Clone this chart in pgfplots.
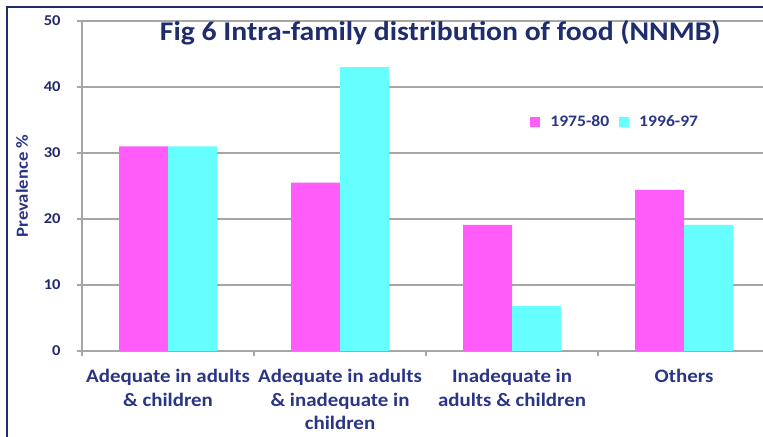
\documentclass[border=0pt]{standalone}
\usepackage{pgfplots}
\pgfplotsset{compat=1.18}
\usepackage{fontspec}
\setmainfont[FakeStretch=1.1]{Carlito}
\definecolor{pinkbar}{HTML}{FF5CFA}
\definecolor{cyanbar}{HTML}{66FFFF}
\definecolor{navy}{HTML}{1F2D6E}
\definecolor{lbl}{HTML}{2B3585}
\definecolor{gridc}{HTML}{A6A6A6}
\begin{document}
\begin{tikzpicture}[x=1bp,y=1bp]
\useasboundingbox (0,0) rectangle (763,437);
\fill[white] (0,0) rectangle (763,437);
\draw[navy, line width=1.8bp] (7,0) -- (7,430) -- (763,430);
\begin{axis}[
  at={(82bp,86bp)}, anchor=south west,
  scale only axis, width=681bp, height=330bp,
  ybar=0pt, bar width=49bp,
  xmin=-0.5, xmax=3.459, ymin=0, ymax=50,
  ytick={0,10,...,50},
  xtick={0,1,2,3},
  xticklabels={{Adequate in adults\\\& children},{Adequate in adults\\\& inadequate in\\children},{Inadequate in\\adults \& children},{Others}},
  minor xtick={-0.5,0.5,1.5,2.5},
  major x tick style={draw=none},
  minor x tick style={draw=gridc, line width=1.2bp},
  minor tick length=5bp,
  tick align=outside,
  major tick length=5bp,
  y tick style={draw=gridc, line width=1.2bp},
  axis x line*=bottom, axis y line*=left,
  axis line style={draw=gridc, line width=1.4bp, -},
  ymajorgrids, grid style={draw=gridc, line width=1.4bp},
  /pgf/number format/assume math mode=true,
  yticklabel style={font=\fontsize{15bp}{17bp}\selectfont\bfseries, text=lbl!80!black, xshift=-13bp},
  xticklabel style={font=\fontsize{19bp}{23.5bp}\selectfont\bfseries, text=lbl, align=center, yshift=-10bp},
  ylabel={Prevalence \%},
  ylabel style={at={(axis description cs:-0.088,0.5)}, anchor=center, font=\fontsize{17bp}{19bp}\selectfont\bfseries, text=lbl},
  title={Fig 6 Intra-family distribution of food (NNMB)},
  title style={at={(axis description cs:0.526,0.945)}, anchor=center, font=\fontsize{27bp}{30bp}\selectfont\bfseries, text=navy},
  legend style={at={(axis description cs:0.783,0.695)}, anchor=center, draw=none, fill=none, font=\fontsize{16bp}{18bp}\selectfont\bfseries, text=lbl, column sep=8bp},
  legend columns=2,
  legend image code/.code={\fill[#1] (0bp,-5bp) rectangle (10bp,5bp);},
]
\addplot[fill=pinkbar, draw=none] coordinates {(0,31) (1,25.5) (2,19.1) (3,24.4)};
\addplot[fill=cyanbar, draw=none] coordinates {(0,31) (1,43) (2,6.8) (3,19.1)};
\legend{1975-80,1996-97}
\end{axis}
\end{tikzpicture}
\end{document}
